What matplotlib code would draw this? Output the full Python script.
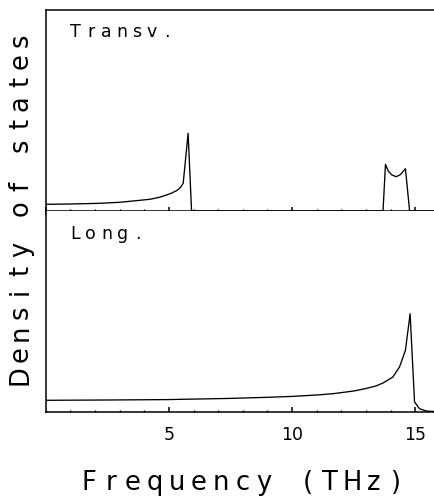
import matplotlib
matplotlib.use("Agg")
import matplotlib.pyplot as plt
from matplotlib.ticker import MultipleLocator

# Transverse DOS (arbitrary units)
trans_freq = [0, 1.0, 2.2, 3.0, 3.54, 4.23, 4.6, 4.9, 5.1, 5.31, 5.45, 5.58, 5.78, 5.92,
              13.69, 13.79, 13.9, 14.05, 14.23, 14.4, 14.6, 14.77, 15.8]
trans_dos = [6.7, 7.0, 7.7, 8.7, 10.0, 11.7, 13.6, 16.0, 17.8, 20.3, 23.0, 27.7, 77.7, 0,
             0, 46.7, 40.0, 36.0, 34.3, 36.5, 42.3, 0, 0]

# Longitudinal DOS (arbitrary units)
long_freq = [0, 2.5, 4.9, 7.5, 9.0, 10.0, 11.0, 11.66, 12.5, 13.0, 13.4, 13.69, 14.09,
             14.36, 14.6, 14.79, 14.97, 15.17, 15.44, 15.8]
long_dos = [11.7, 12.0, 12.4, 13.6, 14.7, 15.6, 17.0, 18.3, 21.0, 23.5, 26.0, 29.0, 35.0,
            45.0, 61.7, 98.3, 10.0, 3.3, 1.0, 0.5]

major_ticks = [5, 10, 15]
tick_labels = ["5", "10", "15"]

W, H = 435, 496
fig = plt.figure(figsize=(W / 100, H / 100), dpi=100)

def frac(x, y):
    return x / W, 1 - y / H

l, r = 45.7, 435
ax1 = fig.add_axes([l / W, 1 - 211 / H, (r - l) / W, 201 / H])
ax2 = fig.add_axes([l / W, 1 - 412 / H, (r - l) / W, 201 / H])

for ax, f, d in [(ax1, trans_freq, trans_dos), (ax2, long_freq, long_dos)]:
    ax.plot(f, d, color="black", lw=0.95)
    ax.set_xlim(0, 15.8)
    ax.set_ylim(0, 201)
    ax.set_yticks([])
    ax.spines["right"].set_visible(False)
    for s in ax.spines.values():
        s.set_linewidth(1.1)
    ax.xaxis.set_major_locator(MultipleLocator(5))
    ax.xaxis.set_minor_locator(MultipleLocator(1))

ax2.spines["top"].set_visible(False)

ax1.tick_params(axis="x", which="major", direction="inout", length=6, width=1.1,
                labelbottom=False)
ax1.tick_params(axis="x", which="minor", direction="inout", length=3, width=1.0)
ax2.tick_params(axis="x", which="major", direction="in", length=3.5, width=1.1, pad=10)
ax2.tick_params(axis="x", which="minor", direction="in", length=1.8, width=1.0)
ax2.set_xticks(major_ticks)
ax2.set_xticklabels(tick_labels, fontsize=12.5)

def spaced_text(s, x0, y0, step, size, vertical=False):
    # place each character at a fixed advance (figure pixels)
    for i, ch in enumerate(s):
        if ch == " ":
            continue
        if vertical:
            x, y = x0, y0 - i * step
            fig.text(*frac(x, y), ch, fontsize=size, rotation=90,
                     ha="center", va="center")
        else:
            x, y = x0 + i * step, y0
            fig.text(*frac(x, y), ch, fontsize=size, ha="center", va="baseline")

spaced_text("Transv.", 75.5, 37, 15.3, 12.5)
spaced_text("Long.", 75, 239, 15.7, 12.5)
spaced_text("Frequency (THz)", 89, 490, 21.9, 18.5)
spaced_text("Density of states", 21, 375, 20.9, 18.5, vertical=True)

fig.savefig("out.png", dpi=100)
